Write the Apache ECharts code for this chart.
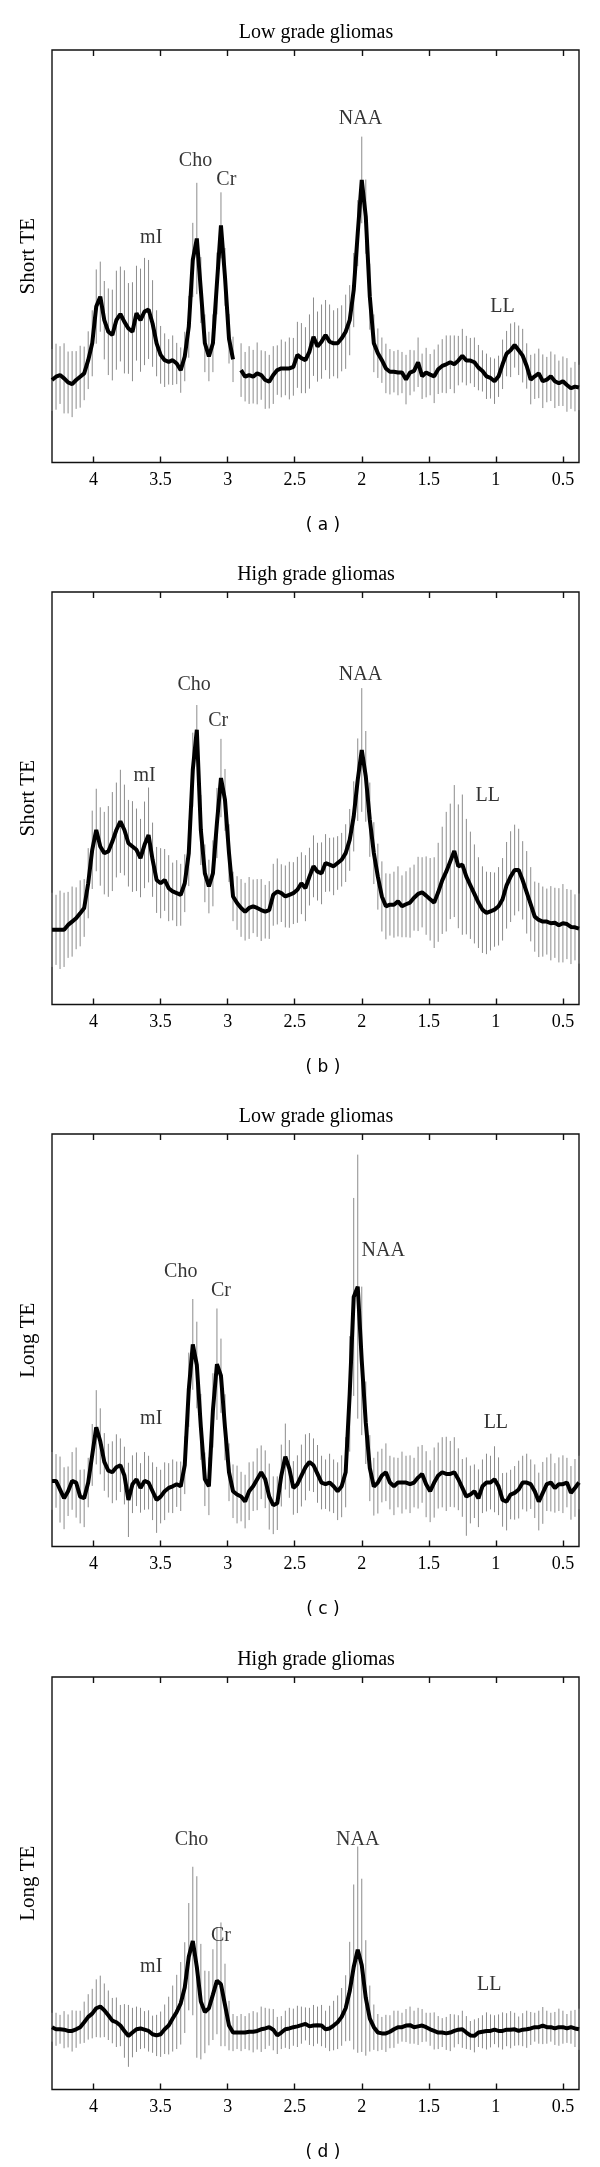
<!DOCTYPE html>
<html>
<head>
<meta charset="utf-8">
<title>MR spectra of gliomas</title>
<script src="https://cdn.jsdelivr.net/npm/echarts@6/dist/echarts.min.js"></script>
<style>
  html, body { margin: 0; padding: 0; background: #fff; }
  #spectra { width: 600px; height: 2167px; }
</style>
</head>
<body>
<div id="spectra"></div>
<script>
// chemical shift (ppm) of every sample, shared by the four spectra
var ppm = [
  4.31, 4.28, 4.25, 4.22, 4.19, 4.16, 4.13, 4.10, 4.07, 4.04, 4.01, 3.98,
  3.95, 3.92, 3.89, 3.86, 3.83, 3.80, 3.77, 3.74, 3.71, 3.68, 3.65, 3.62,
  3.59, 3.56, 3.53, 3.50, 3.47, 3.44, 3.41, 3.38, 3.35, 3.32, 3.29, 3.26,
  3.23, 3.20, 3.17, 3.14, 3.11, 3.08, 3.05, 3.02, 2.99, 2.96, 2.93, 2.90,
  2.87, 2.84, 2.81, 2.78, 2.75, 2.72, 2.69, 2.66, 2.63, 2.60, 2.57, 2.54,
  2.51, 2.48, 2.45, 2.42, 2.39, 2.36, 2.33, 2.30, 2.27, 2.24, 2.21, 2.18,
  2.15, 2.12, 2.09, 2.06, 2.03, 2.00, 1.97, 1.94, 1.91, 1.88, 1.85, 1.82,
  1.79, 1.76, 1.73, 1.70, 1.67, 1.64, 1.61, 1.58, 1.55, 1.52, 1.49, 1.46,
  1.43, 1.40, 1.37, 1.34, 1.31, 1.28, 1.25, 1.22, 1.19, 1.16, 1.13, 1.10,
  1.07, 1.04, 1.01, 0.98, 0.95, 0.92, 0.89, 0.86, 0.83, 0.80, 0.77, 0.74,
  0.71, 0.68, 0.65, 0.62, 0.59, 0.56, 0.53, 0.50, 0.47, 0.44, 0.41, 0.38
];

// (a) low grade, short TE : mean spectrum and standard deviation
var lowShortMean = [
  20.0, 20.8, 21.2, 20.4, 19.4, 19.0, 20.0, 20.8, 21.6, 24.8, 28.9, 37.8,
  40.2, 34.5, 31.7, 30.9, 34.5, 36.0, 34.1, 32.5, 31.7, 36.2, 34.5, 36.6,
  37.1, 33.7, 28.9, 26.1, 24.8, 24.4, 24.8, 24.0, 22.4, 25.7, 32.9, 49.1,
  54.3, 41.8, 28.9, 25.7, 28.9, 43.4, 57.5, 45.0, 30.0, 25.0, null, 22.4,
  20.8, 21.2, 20.8, 21.6, 21.2, 20.0, 19.6, 21.2, 22.4, 22.8, 22.8, 22.8,
  23.2, 26.1, 25.3, 24.8, 26.9, 30.5, 28.1, 29.3, 30.9, 29.3, 28.9, 28.9,
  30.1, 31.7, 34.5, 41.8, 55.6, 68.5, 59.6, 40.2, 28.9, 26.5, 24.8, 22.8,
  22.0, 22.0, 21.8, 21.8, 20.1, 21.8, 22.2, 24.3, 20.9, 21.8, 21.3, 20.9,
  22.6, 23.4, 23.8, 24.3, 23.8, 24.7, 25.9, 24.7, 24.7, 24.3, 23.0, 22.2,
  20.9, 20.5, 19.7, 20.9, 23.8, 26.4, 27.2, 28.5, 27.2, 25.9, 23.4, 20.1,
  20.9, 21.6, 19.7, 20.1, 20.9, 19.7, 19.2, 19.7, 18.8, 18.0, 18.4, 18.2
];
var lowShortSd = [
  7.5, 8.0, 7.0, 8.5, 7.5, 8.0, 7.0, 7.5, 6.5, 7.0, 8.0, 9.0,
  8.5, 9.5, 10.5, 11.0, 12.0, 11.5, 12.5, 11.0, 12.0, 11.5, 12.5, 13.0,
  12.0, 10.5, 8.0, 7.0, 6.5, 5.5, 6.0, 5.0, 5.5, 6.0, 7.5, 9.0,
  13.5, 8.0, 7.0, 6.0, 7.0, 7.5, 8.0, 7.0, 6.0, 5.5, 6.0, 6.5,
  6.0, 7.0, 6.5, 7.5, 6.0, 7.0, 6.5, 7.0, 6.0, 7.0, 6.5, 7.5,
  7.0, 8.0, 8.5, 8.0, 9.0, 9.5, 8.5, 9.0, 8.5, 9.0, 8.0, 8.5,
  8.0, 9.0, 8.5, 9.0, 8.0, 10.5, 9.0, 8.0, 7.0, 6.0, 5.5, 6.0,
  5.5, 5.0, 5.5, 5.0, 6.0, 5.5, 5.0, 6.0, 5.5, 6.0, 5.0, 6.5,
  6.0, 6.5, 7.0, 6.5, 7.0, 6.0, 6.5, 6.0, 5.5, 6.0, 5.5, 5.0,
  5.5, 5.0, 5.5, 5.0, 6.0, 5.5, 6.5, 5.5, 6.0, 6.5, 5.5, 6.0,
  5.5, 6.0, 6.5, 5.5, 6.0, 6.5, 5.5, 6.0, 6.5, 5.0, 6.0, 5.5
];

// (b) high grade, short TE
var highShortMean = [
  18.1, 18.1, 18.1, 18.1, 19.3, 20.1, 20.9, 22.1, 23.4, 29.4, 37.5, 42.3,
  38.3, 36.7, 37.1, 39.5, 42.3, 44.4, 42.3, 39.1, 38.3, 37.5, 35.5, 38.7,
  41.1, 35.1, 30.2, 29.4, 30.2, 28.2, 27.4, 27.0, 26.6, 29.4, 36.7, 56.9,
  66.6, 42.3, 31.8, 28.6, 31.8, 44.0, 54.9, 49.6, 36.7, 26.2, 24.6, 23.4,
  22.5, 23.4, 23.8, 23.4, 22.9, 22.5, 22.9, 26.6, 27.4, 27.0, 26.2, 26.6,
  27.0, 27.8, 29.4, 28.2, 31.0, 33.5, 32.2, 31.8, 34.3, 33.9, 33.5, 34.3,
  35.1, 36.7, 39.9, 45.6, 54.5, 61.7, 55.3, 44.8, 36.7, 31.0, 26.2, 23.8,
  24.2, 24.2, 25.0, 23.8, 24.3, 24.7, 25.9, 26.8, 27.2, 26.4, 25.5, 24.7,
  27.2, 30.1, 32.2, 34.7, 37.2, 33.5, 33.9, 31.0, 28.9, 26.8, 24.7, 23.0,
  22.2, 22.6, 23.0, 23.8, 25.5, 28.9, 31.0, 32.6, 32.6, 30.1, 27.2, 24.3,
  21.3, 20.5, 20.1, 20.1, 19.7, 19.8, 19.2, 19.7, 19.5, 18.8, 18.7, 18.4
];
var highShortSd = [
  9.0, 8.5, 9.5, 9.0, 8.0, 8.5, 7.5, 8.0, 7.0, 8.5, 9.5, 10.0,
  9.5, 10.0, 11.0, 12.0, 11.5, 12.5, 11.0, 10.5, 11.0, 10.0, 9.5, 10.5,
  11.5, 9.0, 8.0, 8.5, 7.5, 8.0, 7.0, 8.0, 7.5, 7.0, 8.0, 9.0,
  6.0, 8.5, 7.0, 6.5, 8.0, 8.5, 9.5, 7.5, 7.0, 6.0, 6.5, 7.0,
  7.0, 7.5, 6.5, 7.0, 7.5, 6.5, 7.0, 7.5, 8.0, 7.0, 7.5, 8.0,
  7.5, 8.0, 7.5, 8.0, 7.0, 7.5, 7.0, 7.5, 7.0, 6.5, 7.0, 6.5,
  6.5, 7.0, 7.5, 8.5, 10.0, 15.0, 11.0, 9.0, 7.5, 8.0, 8.5, 8.0,
  7.5, 8.0, 8.5, 7.5, 8.0, 8.5, 8.0, 9.0, 8.5, 9.5, 10.0, 11.0,
  12.0, 13.0, 14.5, 14.0, 16.0, 15.0, 17.0, 14.0, 13.0, 12.0, 11.0, 10.5,
  10.0, 9.5, 9.0, 9.5, 10.0, 10.5, 11.0, 11.0, 10.0, 9.5, 10.0, 9.0,
  8.5, 9.0, 8.5, 8.0, 9.0, 8.5, 9.0, 9.5, 8.5, 9.0, 8.0, 8.5
];

// (c) low grade, long TE
var lowLongMean = [
  15.9, 15.9, 13.8, 11.7, 13.4, 15.9, 15.5, 12.1, 11.7, 15.5, 22.2, 28.9,
  25.5, 20.5, 18.4, 18.0, 19.2, 19.7, 17.2, 11.3, 15.1, 16.3, 14.2, 15.9,
  15.5, 13.4, 11.3, 12.1, 13.4, 14.2, 14.6, 15.1, 14.6, 19.7, 38.0, 49.0,
  44.0, 29.0, 16.3, 14.6, 33.0, 44.2, 41.4, 28.9, 18.0, 13.4, 12.6, 12.1,
  10.9, 13.4, 14.6, 16.3, 18.0, 16.3, 12.1, 10.0, 10.5, 17.2, 21.8, 18.8,
  14.2, 15.1, 17.2, 19.2, 20.5, 19.7, 17.6, 15.5, 15.1, 15.5, 14.6, 13.4,
  14.6, 18.0, 37.0, 60.5, 63.0, 45.0, 30.0, 19.0, 14.5, 15.5, 17.2, 18.0,
  15.5, 14.6, 15.5, 15.5, 15.5, 15.1, 15.5, 16.7, 17.6, 15.1, 13.4, 15.5,
  17.2, 18.0, 17.6, 17.6, 18.0, 16.3, 14.2, 12.1, 12.6, 13.4, 11.7, 14.6,
  15.5, 15.5, 16.3, 14.6, 11.3, 10.9, 12.6, 13.0, 13.8, 15.5, 15.5, 15.1,
  13.4, 10.9, 13.0, 15.1, 15.5, 14.2, 15.1, 15.1, 15.5, 13.0, 14.2, 15.5
];
var lowLongSd = [
  7.0, 6.5, 8.0, 7.5, 6.0, 7.0, 8.5, 6.5, 7.0, 6.0, 7.5, 9.0,
  8.0, 7.0, 6.5, 7.5, 8.0, 6.5, 7.0, 9.0, 7.0, 6.5, 6.0, 7.0,
  6.5, 7.0, 8.0, 6.5, 7.0, 6.0, 6.5, 5.5, 6.0, 7.0, 9.0, 11.0,
  10.5, 8.0, 6.5, 7.0, 9.0, 13.5, 9.0, 8.0, 7.0, 6.5, 7.0, 6.0,
  6.5, 7.0, 6.0, 7.5, 6.5, 7.0, 8.0, 7.0, 6.5, 7.5, 8.0, 7.0,
  6.5, 7.0, 7.5, 8.0, 7.0, 6.5, 7.0, 6.5, 6.0, 7.0, 6.5, 7.0,
  7.5, 8.5, 14.0, 24.0, 32.0, 18.0, 10.0, 8.0, 7.0, 7.5, 6.5, 7.0,
  6.5, 7.0, 6.0, 7.5, 6.5, 7.0, 6.0, 7.5, 7.0, 8.0, 7.5, 8.5,
  8.0, 8.5, 9.0, 8.0, 8.5, 7.5, 7.0, 9.5, 7.0, 6.5, 7.0, 6.5,
  7.0, 6.5, 8.0, 7.0, 6.5, 7.0, 6.0, 6.5, 7.0, 6.5, 7.0, 6.0,
  6.5, 7.0, 7.5, 6.5, 7.0, 6.0, 6.5, 7.0, 6.0, 6.5, 7.0, 6.5
];

// (d) high grade, long TE
var highLongMean = [
  15.1, 14.6, 14.6, 14.5, 14.2, 14.2, 14.6, 15.1, 16.3, 17.6, 18.4, 19.7,
  20.1, 19.2, 18.0, 16.7, 16.3, 15.5, 14.2, 13.0, 13.8, 14.6, 14.8, 14.5,
  14.2, 13.4, 13.1, 13.4, 14.6, 15.5, 17.2, 18.8, 20.9, 24.7, 32.2, 36.0,
  29.7, 21.3, 18.8, 19.7, 23.0, 26.4, 25.5, 20.5, 15.5, 13.8, 13.8, 13.8,
  13.8, 14.0, 14.0, 14.2, 14.6, 14.8, 15.1, 14.5, 13.1, 13.8, 14.6, 14.8,
  15.1, 15.3, 15.6, 15.9, 15.3, 15.5, 15.6, 15.5, 14.6, 14.8, 15.5, 16.3,
  17.6, 19.7, 23.8, 29.7, 33.9, 30.1, 22.2, 17.2, 15.1, 13.8, 13.6, 13.6,
  14.0, 14.6, 15.1, 15.1, 15.5, 15.6, 15.1, 15.3, 15.5, 15.1, 14.6, 14.2,
  13.8, 13.8, 13.6, 13.8, 14.2, 14.5, 14.6, 13.8, 13.1, 13.0, 13.8, 14.0,
  14.2, 14.2, 14.5, 14.2, 14.2, 14.5, 14.5, 14.6, 14.2, 14.5, 14.6, 14.8,
  15.1, 15.1, 15.5, 15.1, 15.1, 14.8, 15.1, 15.1, 14.8, 15.1, 14.8, 14.6
];
var highLongSd = [
  3.5, 4.0, 3.5, 4.5, 4.0, 5.0, 4.5, 4.0, 5.0, 5.5, 6.0, 7.0,
  7.5, 6.5, 6.0, 5.5, 6.0, 5.0, 6.5, 7.5, 6.0, 5.5, 5.0, 4.5,
  5.0, 4.5, 5.0, 5.5, 6.0, 7.0, 8.0, 9.0, 10.0, 11.0, 13.0, 18.0,
  22.0, 14.0, 10.0, 9.0, 11.0, 13.0, 15.0, 10.0, 6.0, 4.5, 4.0, 4.5,
  4.0, 4.5, 5.0, 4.5, 5.5, 5.0, 4.5, 5.0, 4.5, 4.0, 4.5, 5.0,
  4.5, 5.0, 4.5, 4.0, 4.5, 5.0, 4.5, 5.0, 4.5, 5.5, 6.0, 6.5,
  7.0, 8.0, 12.0, 20.0, 25.0, 21.0, 14.0, 8.0, 5.5, 4.5, 4.0, 4.5,
  4.0, 4.5, 4.0, 3.5, 4.0, 4.5, 4.0, 4.5, 4.0, 3.5, 4.0, 4.5,
  4.0, 3.5, 4.0, 4.5, 4.0, 3.5, 4.5, 4.0, 3.5, 4.0, 3.5, 4.0,
  4.5, 4.0, 3.5, 4.0, 4.5, 4.0, 4.5, 4.0, 3.5, 4.0, 4.5, 4.0,
  3.5, 4.0, 4.5, 4.0, 3.5, 4.0, 4.5, 4.0, 3.5, 4.0, 4.5, 5.0
];

// metabolite labels, placed in data coordinates
var peakNames = ["mI", "Cho", "Cr", "NAA", "LL"];
var lowShortLabelPpm = [3.57, 3.24, 3.01, 2.01, 0.95];
var lowShortLabelVal = [54.4, 73.2, 68.6, 83.3, 37.8];
var highShortLabelPpm = [3.62, 3.25, 3.07, 2.01, 1.06];
var highShortLabelVal = [55.4, 77.6, 68.9, 79.9, 50.5];
var lowLongLabelPpm = [3.57, 3.35, 3.05, 1.84, 1.00];
var lowLongLabelVal = [30.9, 66.5, 62.1, 71.8, 30.1];
var highLongLabelPpm = [3.57, 3.27, 3.05, 2.03, 1.05];
var highLongLabelVal = [29.7, 60.5, 37.2, 60.5, 25.5];

var tickValues = [4, 3.5, 3, 2.5, 2, 1.5, 1, 0.5];

var panels = [
  { title: "Low grade gliomas", te: "Short TE", tag: "( a )", mean: lowShortMean, sd: lowShortSd, lp: lowShortLabelPpm, lv: lowShortLabelVal },
  { title: "High grade gliomas", te: "Short TE", tag: "( b )", mean: highShortMean, sd: highShortSd, lp: highShortLabelPpm, lv: highShortLabelVal },
  { title: "Low grade gliomas", te: "Long TE", tag: "( c )", mean: lowLongMean, sd: lowLongSd, lp: lowLongLabelPpm, lv: lowLongLabelVal },
  { title: "High grade gliomas", te: "Long TE", tag: "( d )", mean: highLongMean, sd: highLongSd, lp: highLongLabelPpm, lv: highLongLabelVal }
];

var panelTop = [50, 592, 1134, 1677];
var serif = "'Liberation Serif', 'Times New Roman', serif";

// one grey vertical bar (mean +- sd) per sample
function renderBar(params, api) {
  var x = api.value(0), m = api.value(1), s = api.value(2);
  if (isNaN(m)) return;
  var lo = api.coord([x, m - s]);
  var hi = api.coord([x, m + s]);
  return {
    type: "line",
    shape: { x1: lo[0], y1: lo[1], x2: hi[0], y2: hi[1] },
    style: { stroke: "#8c8c8c", lineWidth: 1 }
  };
}

var chart = echarts.init(document.getElementById("spectra"));
var option = {
  animation: false,
  backgroundColor: "#fff",
  grid: [], xAxis: [], yAxis: [], series: [], graphic: []
};

panels.forEach(function (p, i) {
  var top = panelTop[i];
  option.grid.push({
    left: 52, top: top, width: 527, height: 412.5,
    show: true, borderColor: "#111", borderWidth: 1.4
  });
  // bottom axis with tick labels
  option.xAxis.push({
    type: "value", gridIndex: i, position: "bottom", inverse: true,
    min: 0.38, max: 4.31,
    axisLine: { show: false }, splitLine: { show: false },
    axisTick: { show: true, inside: true, length: 6, customValues: tickValues,
      lineStyle: { color: "#111", width: 1.4 } },
    axisLabel: { show: true, customValues: tickValues, margin: 9,
      color: "#000", fontFamily: serif, fontSize: 18 }
  });
  // top axis: ticks only
  option.xAxis.push({
    type: "value", gridIndex: i, position: "top", inverse: true,
    min: 0.38, max: 4.31,
    axisLine: { show: false }, splitLine: { show: false },
    axisTick: { show: true, inside: true, length: 6, customValues: tickValues,
      lineStyle: { color: "#111", width: 1.4 } },
    axisLabel: { show: false }
  });
  option.yAxis.push({
    type: "value", gridIndex: i, min: 0, max: 100,
    axisLine: { show: false }, axisTick: { show: false },
    axisLabel: { show: false }, splitLine: { show: false },
    name: p.te, nameLocation: "middle", nameGap: 13,
    nameTextStyle: { fontFamily: serif, fontSize: 21, color: "#000" }
  });

  var bars = ppm.map(function (x, k) {
    return [x, p.mean[k] === null ? NaN : p.mean[k], p.sd[k]];
  });
  var line = ppm.map(function (x, k) { return [x, p.mean[k]]; });
  var labels = peakNames.map(function (n, k) {
    return { name: n, value: [p.lp[k], p.lv[k]] };
  });

  option.series.push({
    type: "custom", xAxisIndex: 2 * i, yAxisIndex: i,
    renderItem: renderBar, encode: { x: 0, y: 1 },
    data: bars, z: 2, silent: true
  });
  option.series.push({
    type: "line", xAxisIndex: 2 * i, yAxisIndex: i,
    data: line, showSymbol: false, symbol: "none", connectNulls: false,
    lineStyle: { color: "#000", width: 4 }, z: 3, silent: true
  });
  option.series.push({
    type: "scatter", xAxisIndex: 2 * i, yAxisIndex: i,
    data: labels, symbolSize: 1, itemStyle: { color: "rgba(0,0,0,0)" },
    label: { show: true, position: "inside", formatter: "{b}",
      fontFamily: serif, fontSize: 20, color: "#000" },
    z: 4, silent: true
  });

  option.graphic.push({
    type: "text", x: 316, y: top - 17,
    style: { text: p.title, font: "20px " + serif, fill: "#000",
      textAlign: "center", textVerticalAlign: "middle" }
  });
  option.graphic.push({
    type: "text", x: 323, y: top + 476,
    style: { text: p.tag, font: "17px 'DejaVu Sans', sans-serif", fill: "#000",
      textAlign: "center", textVerticalAlign: "middle" }
  });
});

chart.setOption(option);
</script>
</body>
</html>
